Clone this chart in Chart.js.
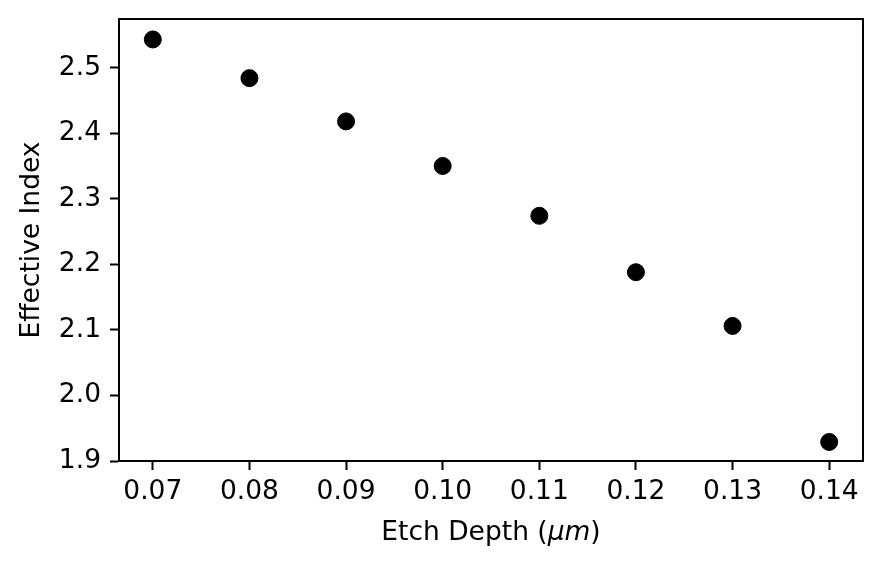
<!DOCTYPE html>
<html>
<head>
<meta charset="utf-8">
<script src="https://cdn.jsdelivr.net/npm/chart.js@4.4.1/dist/chart.umd.min.js"></script>
<style>
  html, body { margin: 0; padding: 0; background: #fff; }
  canvas { display: block; }
</style>
</head>
<body>
<canvas id="myChart" width="882" height="565"></canvas>
<script>
// data
const etchDepth = [0.07, 0.08, 0.09, 0.10, 0.11, 0.12, 0.13, 0.14];
const effectiveIndex = [2.543, 2.484, 2.418, 2.350, 2.274, 2.188, 2.106, 1.929];
const xTicks = [0.07, 0.08, 0.09, 0.10, 0.11, 0.12, 0.13, 0.14];
const yTicks = [1.9, 2.0, 2.1, 2.2, 2.3, 2.4, 2.5];

const fontFamily = '"DejaVu Sans", sans-serif';
const fontSize = 26.5;

// box around the plot + x label with italic mu m
const framePlugin = {
    id: 'frame',
    afterDraw(chart) {
        const ctx = chart.ctx;
        const a = chart.chartArea;
        ctx.save();
        ctx.strokeStyle = '#000';
        ctx.lineWidth = 2;
        ctx.strokeRect(a.left, a.top, a.right - a.left, a.bottom - a.top);

        const normal = fontSize + 'px ' + fontFamily;
        const italic = 'italic ' + fontSize + 'px ' + fontFamily;
        const p1 = 'Etch Depth (', p2 = 'μm', p3 = ')';
        ctx.font = normal;
        const w1 = ctx.measureText(p1).width;
        const w3 = ctx.measureText(p3).width;
        ctx.font = italic;
        const w2 = ctx.measureText(p2).width;
        let x = (a.left + a.right) / 2 - (w1 + w2 + w3) / 2;
        const y = 540;
        ctx.fillStyle = '#000';
        ctx.textBaseline = 'alphabetic';
        ctx.textAlign = 'left';
        ctx.font = normal;
        ctx.fillText(p1, x, y);
        x += w1;
        ctx.font = italic;
        ctx.fillText(p2, x, y);
        x += w2;
        ctx.font = normal;
        ctx.fillText(p3, x, y);
        ctx.restore();
    }
};

const ctx = document.getElementById('myChart').getContext('2d');
const myChart = new Chart(ctx, {
    type: 'scatter',
    data: {
        datasets: [{
            data: etchDepth.map((x, i) => ({ x: x, y: effectiveIndex[i] })),
            backgroundColor: '#000',
            borderColor: '#000',
            borderWidth: 1,
            pointRadius: 8.5,
            pointHoverRadius: 8.5
        }]
    },
    options: {
        responsive: false,
        animation: false,
        devicePixelRatio: 1,
        layout: { padding: { top: 19, right: 19, left: 0, bottom: 0 } },
        plugins: {
            legend: { display: false },
            tooltip: { enabled: false }
        },
        scales: {
            x: {
                type: 'linear',
                min: 0.0665,
                max: 0.1435,
                afterBuildTicks: scale => { scale.ticks = xTicks.map(v => ({ value: v })); },
                afterFit: scale => {
                    scale.height = 104;
                    scale.paddingLeft = 0;
                    scale.paddingRight = 0;
                },
                ticks: {
                    color: '#000',
                    font: { family: fontFamily, size: fontSize },
                    padding: 6,
                    maxRotation: 0,
                    autoSkip: false,
                    callback: v => v.toFixed(2)
                },
                grid: { drawOnChartArea: false, drawTicks: true, tickLength: 9, tickWidth: 2, color: '#000' },
                border: { display: true, color: '#000', width: 2 }
            },
            y: {
                type: 'linear',
                min: 1.9,
                max: 2.5742,
                afterBuildTicks: scale => { scale.ticks = yTicks.map(v => ({ value: v })); },
                afterFit: scale => {
                    scale.width = 119;
                    scale.paddingTop = 0;
                    scale.paddingBottom = 0;
                },
                ticks: {
                    color: '#000',
                    font: { family: fontFamily, size: fontSize },
                    padding: 9,
                    autoSkip: false,
                    callback: v => v.toFixed(1)
                },
                grid: { drawOnChartArea: false, drawTicks: true, tickLength: 9, tickWidth: 2, color: '#000' },
                border: { display: true, color: '#000', width: 2 },
                title: {
                    display: true,
                    text: 'Effective Index',
                    color: '#000',
                    font: { family: fontFamily, size: fontSize, lineHeight: 1.2 },
                    padding: { top: 16, bottom: 0 }
                }
            }
        }
    },
    plugins: [framePlugin]
});
</script>
</body>
</html>
